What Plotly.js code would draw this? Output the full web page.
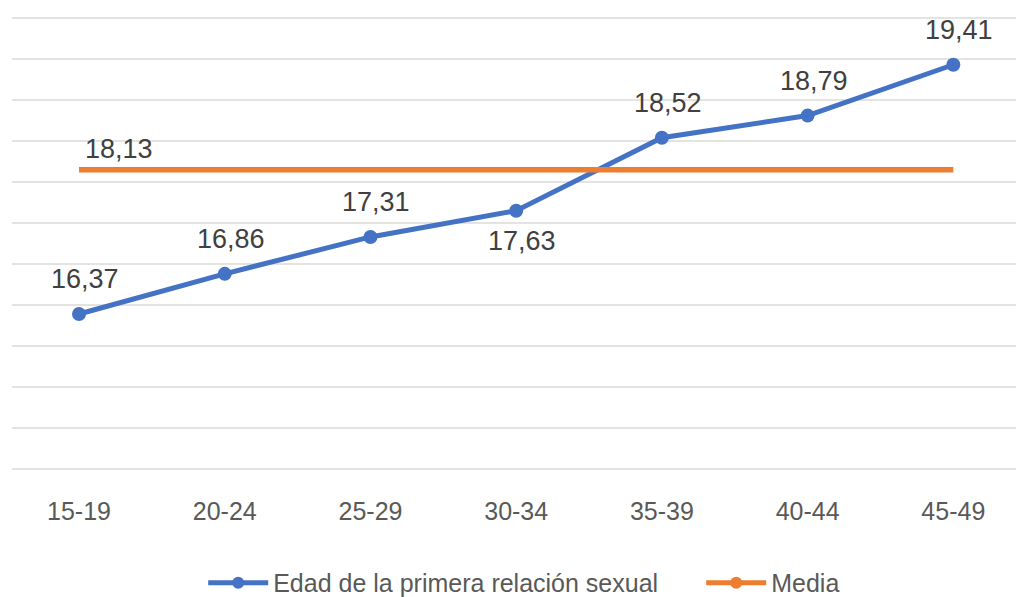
<!DOCTYPE html>
<html>
<head>
<meta charset="utf-8">
<script src="https://cdn.plot.ly/plotly-3.0.1.min.js"></script>
<style>
  html, body { margin: 0; padding: 0; background: #ffffff; }
  #chart { width: 1016px; height: 597px; }
</style>
</head>
<body>
<div id="chart"></div>
<script>
// Grupos de edad y edad media de la primera relación sexual
const grupos = ['15-19', '20-24', '25-29', '30-34', '35-39', '40-44', '45-49'];
const edadPrimera = [16.37, 16.86, 17.31, 17.63, 18.52, 18.79, 19.41];
const media = [18.13, 18.13, 18.13, 18.13, 18.13, 18.13, 18.13];

// Posición de cada etiqueta respecto al punto (arriba o abajo)
const posEtiqueta = ['arriba', 'arriba', 'arriba', 'abajo', 'arriba', 'arriba', 'arriba'];

const AZUL = '#4472C4';
const NARANJA = '#ED7D31';
const FUENTE = 'Liberation Sans, Arial, sans-serif';

const fmt = v => v.toFixed(2).replace('.', ',');

const trazas = [
  {
    x: grupos,
    y: edadPrimera,
    name: 'Edad de la primera relación sexual',
    type: 'scatter',
    mode: 'lines+markers',
    line: { color: AZUL, width: 5 },
    marker: { color: AZUL, size: 14 },
    hoverinfo: 'x+y'
  },
  {
    x: grupos,
    y: media,
    name: 'Media',
    type: 'scatter',
    mode: 'lines+markers',
    line: { color: NARANJA, width: 5.5 },
    marker: { color: NARANJA, size: 0.01 },
    hoverinfo: 'x+y'
  }
];

const anotaciones = edadPrimera.map((v, i) => ({
  x: grupos[i],
  y: v,
  xref: 'x',
  yref: 'y',
  text: fmt(v),
  showarrow: false,
  xanchor: 'center',
  yanchor: 'middle',
  xshift: 6,
  yshift: posEtiqueta[i] === 'arriba' ? 35 : -30,
  font: { family: FUENTE, size: 27, color: '#404040' }
}));

anotaciones.push({
  x: grupos[0],
  y: media[0],
  xref: 'x',
  yref: 'y',
  text: fmt(media[0]),
  showarrow: false,
  xanchor: 'left',
  yanchor: 'middle',
  xshift: 4,
  yshift: 21,
  font: { family: FUENTE, size: 27, color: '#404040' }
});

const layout = {
  width: 1016,
  height: 597,
  margin: { l: 12, r: 0, t: 14, b: 124 },
  paper_bgcolor: '#ffffff',
  plot_bgcolor: '#ffffff',
  font: { family: FUENTE, color: '#595959' },
  showlegend: true,
  legend: {
    orientation: 'h',
    x: 0.2,
    xanchor: 'left',
    xref: 'container',
    y: 0.0235,
    yanchor: 'middle',
    yref: 'container',
    itemsizing: 'constant',
    itemwidth: 60,
    entrywidth: 423,
    entrywidthmode: 'pixels',
    font: { family: FUENTE, size: 25, color: '#595959' },
    bgcolor: 'rgba(0,0,0,0)'
  },
  xaxis: {
    type: 'category',
    range: [-0.46, 6.43],
    showgrid: false,
    zeroline: false,
    showline: false,
    ticks: '',
    ticklabelstandoff: 21,
    tickfont: { family: FUENTE, size: 25, color: '#595959' },
    fixedrange: true
  },
  yaxis: {
    range: [14.4312, 20.0288],
    tick0: 14.48,
    dtick: 0.5,
    showticklabels: false,
    showgrid: true,
    gridcolor: '#e3e3df',
    gridwidth: 2,
    zeroline: false,
    showline: false,
    ticks: '',
    fixedrange: true
  },
  annotations: anotaciones
};

Plotly.newPlot('chart', trazas, layout, { displayModeBar: false, staticPlot: true });
</script>
</body>
</html>
